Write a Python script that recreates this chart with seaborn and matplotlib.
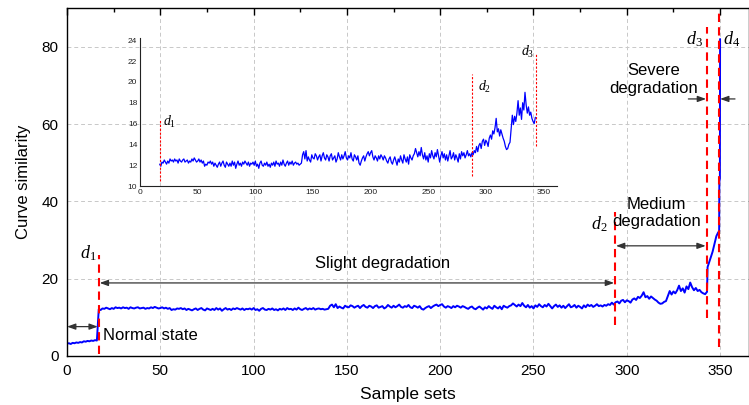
import numpy as np
import pandas as pd
import matplotlib
matplotlib.use("Agg")
import matplotlib.pyplot as plt
import seaborn as sns
from matplotlib.ticker import MultipleLocator

# ---------------- data ----------------
normal_vals = [3.2, 3.3, 3.1, 3.4, 3.3, 3.5, 3.4, 3.6, 3.5, 3.8, 3.7, 3.9, 3.8, 4.0, 3.9, 4.1, 4.0]
slight_vals = [
    12.1, 11.9, 12.3, 12.2, 12.5, 12.3, 12.1, 12.4, 12.2, 12.6, 12.4, 12.5, 12.3, 12.6, 12.4, 12.5, 12.2, 12.6, 12.4, 12.3, 12.5, 12.6, 12.3, 12.4,
    12.5, 12.2, 12.4, 12.3, 12.6, 12.4, 12.7, 12.5, 12.3, 12.4, 12.6, 12.3, 12.5, 12.2, 12.4, 11.9, 12.1, 12.0, 12.3, 12.2,
    12.4, 12.1, 12.3, 11.9, 12.2, 12.0, 11.8, 12.1, 12.3, 11.9, 12.2, 12.4, 12.0, 11.8, 12.3, 12.1, 11.9, 12.2, 11.9, 12.4,
    12.0, 12.3, 11.7, 12.1, 12.4, 12.0, 12.2, 11.9, 12.3, 12.1, 12.4, 12.2, 12.0, 12.3, 11.9, 12.2, 12.1, 12.3, 12.0, 12.4,
    11.9, 12.1, 11.7, 12.2, 12.4, 12.0, 11.9, 12.2, 12.0, 12.3, 11.9, 12.1, 11.8, 12.2, 12.0, 12.3, 11.9, 12.4, 12.1, 12.2,
    11.9, 12.3, 12.0, 12.5, 12.1, 11.9, 12.2, 12.4, 12.0, 12.3, 12.1, 12.4, 12.0, 12.2, 12.3, 12.1, 12.2, 12.0, 12.1, 12.2,
    13.0, 13.3, 12.6, 13.4, 12.4, 12.8, 12.5, 12.3, 13.0, 12.7, 12.6, 13.1, 12.9, 12.5, 12.8, 13.0, 12.4, 12.9, 13.2, 12.7,
    12.5, 13.0, 12.8, 12.4, 12.9, 13.1, 12.5, 12.7, 12.9, 12.3, 12.6, 13.2, 12.8, 12.5, 13.0, 12.6, 12.9, 13.3, 12.7, 12.5,
    12.9, 12.7, 13.2, 12.6, 12.4, 13.0, 12.8, 12.5, 12.9, 12.2, 12.0, 12.4, 12.7, 12.9, 12.4, 12.8, 13.1, 13.3, 12.9, 13.2,
    13.4, 12.8, 12.5, 12.9, 12.7, 12.4, 12.9, 12.6, 13.0, 12.8, 12.5, 12.9, 12.7, 12.4, 12.2, 12.6, 12.8, 12.3, 12.1, 12.5,
    12.8, 12.4, 12.0, 12.6, 12.3, 12.9, 12.5, 12.2, 13.0, 12.6, 12.3, 12.8, 12.1, 13.0, 12.7, 12.5, 12.9, 13.1, 13.6, 13.2,
    12.8, 13.3, 12.9, 13.7, 13.0, 12.6, 13.2, 12.5, 12.9, 12.3, 13.1, 12.7, 13.4, 12.9, 12.6, 13.2, 12.8, 13.5, 12.9, 12.3,
    12.9, 13.3, 12.7, 13.1, 12.5, 13.0, 12.4, 12.9, 13.4, 12.6, 12.8, 13.2, 12.5, 13.0, 12.7, 12.3, 13.1, 12.6, 13.3, 12.9,
    13.2, 12.7, 13.0, 13.4, 12.9, 13.1, 12.8, 13.2, 13.0, 13.4,
]
medium_vals = [
    13.2, 13.8, 13.3, 13.9, 14.1, 13.6, 14.3, 14.5, 13.9, 14.4, 14.2, 13.8, 14.6, 14.9, 14.5, 15.3, 15.0, 15.6, 16.5, 15.2,
    15.5, 14.8, 15.4, 15.0, 14.6, 14.3, 13.8, 13.5, 13.6, 14.0, 14.2, 15.5, 16.8, 15.9, 16.7, 16.2, 17.0, 18.2, 16.8, 17.5,
    16.4, 18.0, 17.3, 19.0, 17.8, 17.0, 17.6, 16.8, 17.1, 16.5, 16.2, 16.0, 16.6,
]
severe_x = [343.3, 344, 345, 346, 347, 348, 349, 349.5, 349.6, 349.9, 350.0]
severe_vals = [23.0, 24.0, 25.5, 27.0, 29.0, 31.0, 32.0, 32.2, 45.0, 46.0, 82.0]

y_main = normal_vals + slight_vals + medium_vals
x_main = list(range(len(y_main))) + severe_x
y_main = y_main + severe_vals
df = pd.DataFrame({"x": x_main, "y": y_main})
df_in = df[(df["x"] >= 17) & (df["x"] <= 343)]

# ---------------- style ----------------
sns.set_style("white")
plt.rcParams["font.family"] = ["Liberation Sans", "DejaVu Sans"]
plt.rcParams["mathtext.fontset"] = "custom"
plt.rcParams["mathtext.it"] = "Liberation Serif:italic"
plt.rcParams["mathtext.rm"] = "Liberation Serif"
plt.rcParams["text.color"] = "black"
plt.rcParams["axes.labelcolor"] = "black"

fig = plt.figure(figsize=(7.49, 4.05), dpi=100)
ax = fig.add_axes([0.0895, 0.121, 0.9105, 0.859])

sns.lineplot(data=df, x="x", y="y", ax=ax, color="#0000ff", lw=1.4,
             estimator=None, sort=False)
ax.set_xlim(0, 365.5)
ax.set_ylim(0, 90)
ax.xaxis.set_major_locator(MultipleLocator(50))
ax.xaxis.set_minor_locator(MultipleLocator(25))
ax.yaxis.set_major_locator(MultipleLocator(20))
ax.yaxis.set_minor_locator(MultipleLocator(10))
ax.tick_params(which="both", direction="in", top=True, right=False,
               labelsize=11, colors="black", width=1)
ax.tick_params(which="major", length=5, pad=6)
ax.tick_params(which="minor", length=3)
ax.grid(True, which="major", color="#c8c8c8", ls=(0, (4, 3)), lw=0.7)
for s in ax.spines.values():
    s.set_color("black")
    s.set_linewidth(1.0)
ax.set_xlabel("Sample sets", fontsize=12.5, labelpad=6)
ax.set_ylabel("Curve similarity", fontsize=12, labelpad=8)

red_kw = dict(color="#ff0000", ls=(0, (4, 2.5)), lw=1.5)
ax.plot([17, 17], [0.5, 26], **red_kw)
ax.plot([293.7, 293.7], [8, 37.3], **red_kw)
ax.plot([342.8, 342.8], [9.8, 85], **red_kw)
ax.plot([349.5, 349.5], [2.3, 90], **red_kw)

dfs = 13
ax.text(11.4, 26.7, r"$\mathit{d}_{\mathit{1}}$", fontsize=dfs, ha="center", va="center")
ax.text(285, 34.2, r"$\mathit{d}_{\mathit{2}}$", fontsize=dfs, ha="center", va="center")
ax.text(336.5, 82, r"$\mathit{d}_{\mathit{3}}$", fontsize=dfs, ha="center", va="center")
ax.text(356, 82, r"$\mathit{d}_{\mathit{4}}$", fontsize=dfs, ha="center", va="center")

akw = dict(arrowstyle="<|-|>,head_length=0.5,head_width=0.18", color="#333333", lw=0.9,
           shrinkA=0, shrinkB=0)
ax.annotate("", xy=(0, 7.6), xytext=(16.5, 7.6), arrowprops=akw)
ax.annotate("", xy=(17.5, 18.9), xytext=(293.2, 18.9), arrowprops=akw)
ax.annotate("", xy=(294.2, 28.5), xytext=(342.3, 28.5), arrowprops=akw)
akw1 = dict(arrowstyle="-|>,head_length=0.5,head_width=0.18", color="#333333", lw=0.9,
            shrinkA=0, shrinkB=0)
ax.annotate("", xy=(342.5, 66.5), xytext=(333, 66.5), arrowprops=akw1)
ax.annotate("", xy=(350, 66.5), xytext=(358, 66.5), arrowprops=akw1)

tfs = 12
ax.text(19.3, 5.4, "Normal state", fontsize=tfs, ha="left", va="center")
ax.text(169, 24, "Slight degradation", fontsize=tfs, ha="center", va="center")
ax.text(316, 37, "Medium\ndegradation", fontsize=tfs, ha="center", va="center")
ax.text(314.5, 71.5, "Severe\ndegradation", fontsize=tfs, ha="center", va="center")

# ---------------- inset ----------------
axin = fig.add_axes([0.187, 0.5407, 0.557, 0.365])
axin.patch.set_alpha(0)
sns.lineplot(data=df_in, x="x", y="y", ax=axin, color="#0000ff", lw=0.9,
             estimator=None, sort=False)
axin.set_xlim(0, 362)
axin.set_ylim(10, 24.2)
axin.xaxis.set_major_locator(MultipleLocator(50))
axin.xaxis.set_minor_locator(MultipleLocator(25))
axin.yaxis.set_major_locator(MultipleLocator(2))
axin.yaxis.set_minor_locator(MultipleLocator(1))
axin.tick_params(which="both", direction="in", labelsize=6, colors="#222222", width=0.7)
axin.tick_params(which="major", length=3, pad=2)
axin.tick_params(which="minor", length=1.5)
axin.spines["top"].set_visible(False)
axin.spines["right"].set_visible(False)
for s in ["left", "bottom"]:
    axin.spines[s].set_color("#222222")
    axin.spines[s].set_linewidth(0.8)
axin.set_xlabel("")
axin.set_ylabel("")
axin.grid(False)

rin = dict(color="#ff0000", ls=(0, (2, 1.5)), lw=0.8)
axin.plot([17.5, 17.5], [10.5, 16.3], **rin)
axin.plot([288, 288], [11, 20.8], **rin)
axin.plot([343.5, 343.5], [13.8, 22.7], **rin)
ifs = 10
axin.text(26, 16.2, r"$\mathit{d}_{\mathit{1}}$", fontsize=ifs, ha="center", va="center")
axin.text(299, 19.5, r"$\mathit{d}_{\mathit{2}}$", fontsize=ifs, ha="center", va="center")
axin.text(336.6, 22.9, r"$\mathit{d}_{\mathit{3}}$", fontsize=ifs, ha="center", va="center")

fig.savefig("out.png", dpi=100)
